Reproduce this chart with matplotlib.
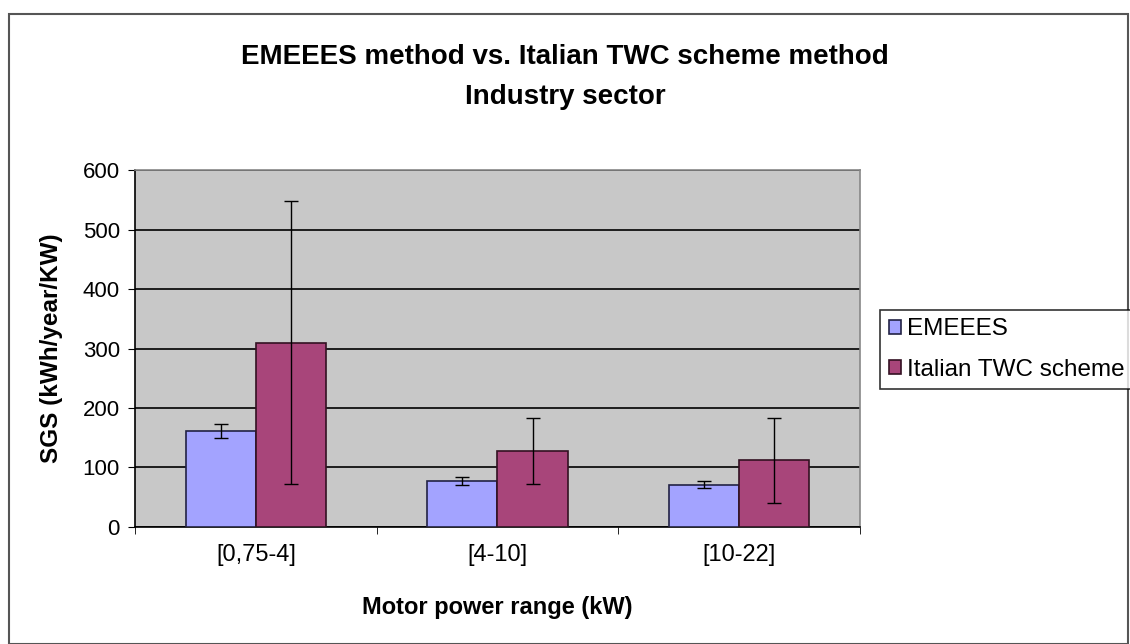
import numpy as np
import matplotlib.pyplot as plt
from matplotlib.patches import Rectangle

plt.rcParams['font.family'] = ['Liberation Sans', 'DejaVu Sans']

categories = ["[0,75-4]", "[4-10]", "[10-22]"]
emeees = [161, 77, 71]
emeees_lo = [150, 70, 65]
emeees_hi = [173, 84, 78]
italian = [309, 128, 113]
italian_lo = [72, 72, 40]
italian_hi = [548, 184, 184]
yticks = [0, 100, 200, 300, 400, 500, 600]

fig = plt.figure(figsize=(11.3, 6.44), dpi=100)
ax = fig.add_axes([0.1195, 0.1817, 0.6415, 0.5543])
ax.set_facecolor("#C8C8C8")

x = np.arange(len(categories))
w = 0.29
em = np.array(emeees)
it = np.array(italian)
ax.bar(x - w / 2, em, w, color="#A3A3FF", edgecolor="#222244", linewidth=1.2, label="EMEEES", zorder=3)
ax.bar(x + w / 2, it, w, color="#A8457A", edgecolor="#331122", linewidth=1.2, label="Italian TWC scheme", zorder=3)
ax.errorbar(x - w / 2, em, yerr=[em - np.array(emeees_lo), np.array(emeees_hi) - em],
            fmt="none", ecolor="black", elinewidth=1, capsize=5, capthick=1, zorder=4)
ax.errorbar(x + w / 2, it, yerr=[it - np.array(italian_lo), np.array(italian_hi) - it],
            fmt="none", ecolor="black", elinewidth=1, capsize=5, capthick=1, zorder=4)

ax.set_xlim(-0.5, len(categories) - 0.5)
ax.set_ylim(0, 600)
ax.set_yticks(yticks)
ax.yaxis.grid(True, color="black", linewidth=1.2, zorder=0)
ax.set_axisbelow(True)
ax.set_xticks(x)
ax.set_xticklabels(categories)
ax.set_xticks(np.arange(len(categories) + 1) - 0.5, minor=True)
ax.tick_params(axis="x", which="major", length=0, pad=12, labelsize=17)
ax.tick_params(axis="x", which="minor", length=5, direction="out")
ax.tick_params(axis="y", length=5, direction="out", labelsize=16, pad=6)
for s in ["top", "right"]:
    ax.spines[s].set_color("#888888")
    ax.spines[s].set_linewidth(1.2)
ax.spines["left"].set_linewidth(1.2)
ax.spines["bottom"].set_linewidth(1.2)

ax.set_xlabel("Motor power range (kW)", fontsize=17, fontweight="bold", labelpad=22)
ax.set_ylabel("SGS (kWh/year/KW)", fontsize=17.5, fontweight="bold", labelpad=14)

fig.text(0.5, 0.912, "EMEEES method vs. Italian TWC scheme method", ha="center", va="center",
         fontsize=20, fontweight="bold")
fig.text(0.5, 0.850, "Industry sector", ha="center", va="center", fontsize=20, fontweight="bold")

leg = fig.legend(loc="upper left", bbox_to_anchor=(0.779, 0.519), frameon=True, fancybox=False,
                 fontsize=17.5, handlelength=0.5, handleheight=0.5, handletextpad=0.25,
                 borderpad=0.35, labelspacing=0.75, borderaxespad=0)
leg.get_frame().set_edgecolor("black")
leg.get_frame().set_linewidth(1.2)

fig.patches.append(Rectangle((0.008, 0.0), 0.99, 0.978, transform=fig.transFigure,
                             fill=False, edgecolor="#555555", linewidth=1.5))

fig.savefig("out.png", dpi=100)
